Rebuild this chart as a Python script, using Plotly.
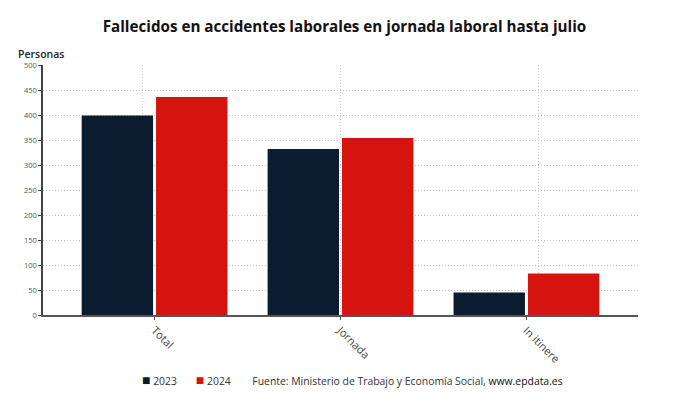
import plotly.graph_objects as go

categories = ["Total", "Jornada", "In itinere"]
values_2023 = [399, 332, 45]
values_2024 = [436, 354, 83]
series_names = ["2023", "2024"]
y_ticks = [0, 50, 100, 150, 200, 250, 300, 350, 400, 450, 500]

COL_2023 = "#0b1c31"
COL_2024 = "#d5140f"
FONT = "Open Sans"
DOT = "1px,2px"
OFF = 8  # page body margin of the exported html

fig = go.Figure()
fig.add_trace(go.Bar(x=categories, y=values_2023, name=series_names[0],
                     marker=dict(color=COL_2023, line=dict(width=0)), showlegend=False))
fig.add_trace(go.Bar(x=categories, y=values_2024, name=series_names[1],
                     marker=dict(color=COL_2024, line=dict(width=0)), showlegend=False))
# invisible trace to host the secondary x-axis grid
fig.add_trace(go.Scatter(x=[0, 3], y=[0, 0], xaxis="x2", mode="lines",
                         line=dict(width=0), hoverinfo="skip", showlegend=False))

fig.update_layout(
    width=690, height=405,
    margin=dict(l=43 - OFF, r=52 + OFF, t=65 - OFF, b=90 + OFF, autoexpand=False),
    paper_bgcolor="white", plot_bgcolor="white",
    font=dict(family=FONT, color="#333"),
    barmode="group", bargap=0.2, bargroupgap=0.04,
    title=dict(text="<b>Fallecidos en accidentes laborales en jornada laboral hasta julio</b>",
               x=(344.5 - OFF) / 690, xanchor="center", y=1 - (27 - OFF) / 405, yanchor="middle",
               font=dict(size=15.2, color="#111", family=FONT)),
    xaxis=dict(type="category", range=[-0.6, 2.6], tickangle=45, automargin=False,
               showgrid=False, showline=True, linecolor="#555", linewidth=1.5,
               ticks="outside", ticklen=3, tickcolor="#555",
               tickfont=dict(size=11, color="#444"), zeroline=False),
    xaxis2=dict(overlaying="x", range=[0, 3], tickvals=[0.5, 1.5, 2.5], automargin=False,
                showticklabels=False, showgrid=True, gridcolor="#cfcfcf",
                griddash=DOT, gridwidth=1, zeroline=False, showline=False,
                ticks=""),
    yaxis=dict(range=[0, 500], tickvals=y_ticks, showgrid=True, automargin=False,
               gridcolor="#c8c8c8", griddash=DOT, gridwidth=1,
               showline=True, linecolor="#444", linewidth=1.5,
               ticks="outside", ticklen=3, tickcolor="#444",
               tickfont=dict(size=7.5, color="#555"), zeroline=False),
    annotations=[
        dict(text="Personas", xref="paper", yref="paper", x=-27 / 595, y=(315 - 54) / 250,
             xanchor="left", yanchor="middle", showarrow=False,
             font=dict(size=10.5, color="#222", family=FONT, weight=600)),
        dict(text=f'<span style="color:{COL_2023};font-size:14px">■</span> {series_names[0]}'
                  f'       <span style="color:{COL_2024};font-size:14px">■</span> {series_names[1]}'
                  '        Fuente: Ministerio de Trabajo y Economía Social, '
                  '<span style="color:#111">www.epdata.es</span>',
             xref="paper", yref="paper", x=(140 - 43) / 595, y=(315 - 379) / 250,
             xanchor="left", yanchor="middle", showarrow=False,
             font=dict(size=10.4, color="#333", family=FONT)),
    ],
)

fig.write_html("out.html")
